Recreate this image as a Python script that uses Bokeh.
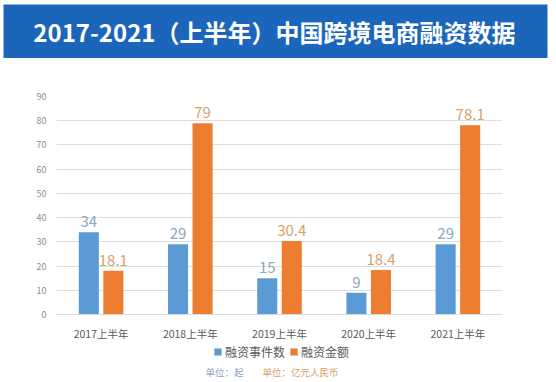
from bokeh.plotting import figure
from bokeh.layouts import column
from bokeh.models import (ColumnDataSource, FactorRange, Range1d, FixedTicker,
                          Legend, LegendItem, Label)
from bokeh.transform import dodge
from bokeh.core.properties import value
from bokeh.embed import file_html
from bokeh.resources import INLINE

# ---- data ----
title_text = "2017-2021（上半年）中国跨境电商融资数据"
categories = ["2017上半年", "2018上半年", "2019上半年", "2020上半年", "2021上半年"]
deal_counts = [34, 29, 15, 9, 29]
deal_amounts = [18.1, 79, 30.4, 18.4, 78.1]
series_names = ["融资事件数", "融资金额"]
unit_texts = ["单位：起", "单位：亿元人民币"]
y_ticks = [0, 10, 20, 30, 40, 50, 60, 70, 80, 90]

FONT = "Noto Sans CJK SC"
BLUE = "#5b9bd5"
ORANGE = "#ed7d31"
BLUE_TXT = "#8ba6c2"
ORANGE_TXT = "#d9a066"

# ---- banner ----
banner = figure(frame_width=544, frame_height=54, x_range=Range1d(0, 1), y_range=Range1d(0, 1),
                x_axis_type=None, y_axis_type=None, toolbar_location=None,
                output_backend="svg", min_border_left=3, min_border_right=3,
                min_border_top=4, min_border_bottom=0)
banner.frame_align = False
banner.outline_line_color = None
banner.background_fill_color = "#1b66bb"
banner.border_fill_color = "white"
banner.grid.visible = False
banner.text(x=[0.498], y=[0.5], text=[title_text], text_color="white",
            text_font=value(FONT), text_font_style="bold", text_font_size="24px",
            text_align="center", text_baseline="middle")

# ---- chart ----
src = ColumnDataSource(dict(
    cat=categories,
    counts=deal_counts,
    amounts=deal_amounts,
    counts_lbl=[str(v) for v in deal_counts],
    amounts_lbl=[str(v) for v in deal_amounts],
))

p = figure(x_range=FactorRange(*categories, range_padding=0), y_range=Range1d(-26.4, 90),
           frame_width=446, frame_height=282, toolbar_location=None,
           output_backend="svg", min_border_left=56, min_border_right=48,
           min_border_top=38, min_border_bottom=0)
p.frame_align = False
p.outline_line_color = None
p.background_fill_color = "white"
p.border_fill_color = "white"

off = 0.1375
w = 0.225
r1 = p.vbar(x=dodge("cat", -off, range=p.x_range), top="counts", width=w, source=src,
            fill_color=BLUE, line_color=None)
r2 = p.vbar(x=dodge("cat", off, range=p.x_range), top="amounts", width=w, source=src,
            fill_color=ORANGE, line_color=None)

p.text(x=dodge("cat", -off, range=p.x_range), y="counts", text="counts_lbl", source=src,
       text_color=BLUE_TXT, text_font=value(FONT), text_font_size="15px",
       text_align="center", text_baseline="bottom", y_offset=-5)
p.text(x=dodge("cat", off, range=p.x_range), y="amounts", text="amounts_lbl", source=src,
       text_color=ORANGE_TXT, text_font=value(FONT), text_font_size="15px",
       text_align="center", text_baseline="bottom", y_offset=-5)

# axes
p.yaxis.ticker = FixedTicker(ticks=y_ticks)
p.yaxis.axis_line_color = None
p.yaxis.major_tick_line_color = None
p.yaxis.minor_tick_line_color = None
p.yaxis.major_label_text_color = "#8c8c8c"
p.yaxis.major_label_text_font = FONT
p.yaxis.major_label_text_font_size = "9px"
p.yaxis.major_label_standoff = 4

p.xaxis.fixed_location = 0
p.xaxis.axis_line_color = "#d9d9d9"
p.xaxis.major_tick_line_color = None
p.xaxis.minor_tick_line_color = None
p.xaxis.major_label_text_color = "#595959"
p.xaxis.major_label_text_font = FONT
p.xaxis.major_label_text_font_size = "10.5px"
p.xaxis.major_label_standoff = 5
p.xgrid.grid_line_color = None
p.ygrid.ticker = FixedTicker(ticks=y_ticks)
p.ygrid.grid_line_color = "#dedede"
p.ygrid.grid_line_width = 1

legend = Legend(items=[LegendItem(label=series_names[0], renderers=[r1]),
                       LegendItem(label=series_names[1], renderers=[r2])],
                orientation="horizontal", location=(157, 18),
                glyph_width=9, glyph_height=9, label_standoff=3, spacing=4,
                padding=0, margin=0, border_line_color=None, background_fill_alpha=0,
                label_text_font=FONT, label_text_font_size="12px",
                label_text_color="#595959", label_height=14)
p.add_layout(legend, "center")

p.add_layout(Label(x=149, y=7, x_units="screen", y_units="screen", text=unit_texts[0],
                   text_color=BLUE_TXT, text_font=FONT, text_font_size="9.5px",
                   text_baseline="middle"))
p.add_layout(Label(x=206, y=7, x_units="screen", y_units="screen", text=unit_texts[1],
                   text_color=ORANGE_TXT, text_font=FONT, text_font_size="9.5px",
                   text_baseline="middle"))

layout = column(banner, p, spacing=0)
open("out.html", "w").write(file_html(layout, INLINE))
